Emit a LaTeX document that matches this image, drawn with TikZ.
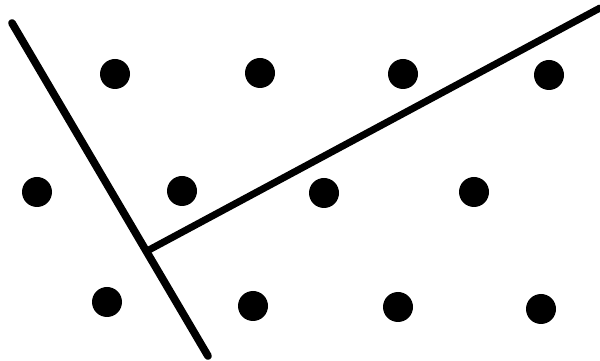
\documentclass[tikz,border=0pt]{standalone}
\begin{document}
\begin{tikzpicture}[x=0.1mm,y=-0.1mm,
  dot/.style={circle,fill=black,inner sep=0pt,minimum size=3mm},
  bar/.style={line width=2.2pt,line cap=round,black}]
\useasboundingbox (0,0) rectangle (600,361);
\foreach \x/\y [count=\i] in {115/74,260/73,403/74,549/75,
  37/192,182/191,324/193,474/192,
  107/302,253/306,398/307,541/309}
  \node[dot] (d\i) at (\x,\y) {};
\coordinate (a) at (12,23);
\coordinate (b) at (208,356);
\coordinate (j) at (147,251);
\coordinate (e) at (600,8);
\draw[bar] (a) -- (b);
\draw[bar,line width=2pt] (j) -- (e);
\end{tikzpicture}
\end{document}
